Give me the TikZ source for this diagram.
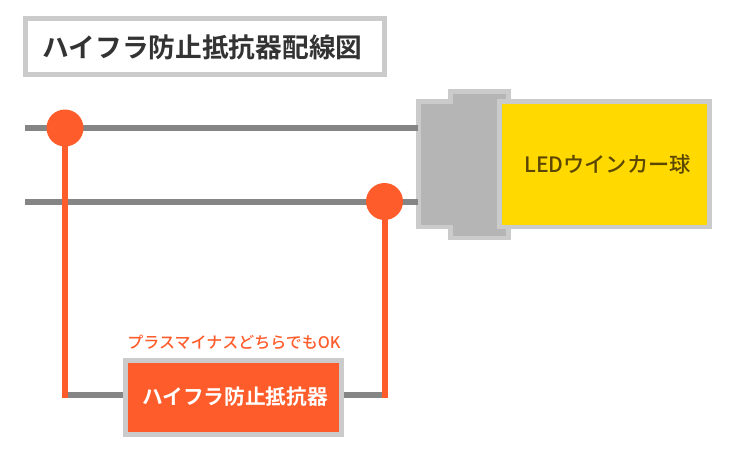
\documentclass[tikz,border=0pt]{standalone}
\usepackage{fontspec}
\setmainfont{Noto Sans CJK JP}[BoldFont={Noto Sans CJK JP Bold}]
\newfontfamily\labelfont{Noto Sans CJK JP Medium}
\definecolor{wiregray}{HTML}{858585}
\definecolor{wireorange}{HTML}{FF5C2B}
\definecolor{edgegray}{HTML}{CBCBCB}
\definecolor{socketgray}{HTML}{B5B5B5}
\definecolor{bulbyellow}{HTML}{FFD900}
\definecolor{bulbtext}{HTML}{5C4700}
\definecolor{titletext}{HTML}{333333}
\tikzset{
    wire/.style={draw=wiregray,line width=6pt},
    lead/.style={draw=wireorange,line width=6pt,line cap=rect},
    joint/.style={circle,fill=wireorange,inner sep=0pt,minimum size=37pt},
    panel/.style={draw=edgegray,line width=5pt,inner sep=0pt}
}
\begin{document}
\begin{tikzpicture}[x=1pt,y=-1pt]
    \useasboundingbox (0,0) rectangle (730,450);
    % title
    \node[panel,fill=white,minimum width=359.5pt,minimum height=56.5pt] (title) at (204.75,46.25) {};
    \node[text=titletext,font=\bfseries\fontsize{26.7}{30}\selectfont,inner sep=0pt] (titlelabel) at (202.5,47) {ハイフラ防止抵抗器配線図};
    % socket and bulb
    \draw[draw=edgegray,fill=socketgray,line width=4.5pt] (418.25,101.25) -- (450.5,101.25) -- (450.5,91.25) -- (508.5,91.25) -- (508.5,237.75) -- (450.5,237.75) -- (450.5,226.75) -- (418.25,226.75) -- cycle;
    \node[panel,line width=4.5pt,fill=bulbyellow,minimum width=210pt,minimum height=125.5pt] (bulb) at (604.25,164) {};
    \node[text=bulbtext,font=\labelfont\fontsize{21.2}{24}\selectfont,inner sep=0pt] (bulblabel) at (607.5,164) {LEDウインカー球};
    % resistor
    \node[panel,fill=wireorange,minimum width=216pt,minimum height=74pt] (resistor) at (233.5,397.5) {};
    \node[text=white,font=\bfseries\fontsize{20.7}{24}\selectfont,inner sep=0pt] (resistorlabel) at (235,397) {ハイフラ防止抵抗器};
    \node[text=wireorange,font=\labelfont\fontsize{16}{18}\selectfont,inner sep=0pt] (polarity) at (234,342) {プラスマイナスどちらでもOK};
    % wires
    \foreach \name/\ypos/\xpos in {a/128/65, b/201.5/384.5} {
        \coordinate (start\name) at (25,\ypos);
        \coordinate (socket\name) at (418,\ypos);
        \coordinate (dot\name) at (\xpos,\ypos);
        \coordinate (corner\name) at (\xpos,394.5);
        \draw[wire] (start\name) -- (socket\name);
    }
    \draw[wire] (cornera) -- (cornera -| resistor.west);
    \draw[wire] (cornerb) -- (cornerb -| resistor.east);
    \foreach \name in {a,b} {
        \draw[lead] (dot\name) -- (corner\name);
        \node[joint] (joint\name) at (dot\name) {};
    }
\end{tikzpicture}
\end{document}
